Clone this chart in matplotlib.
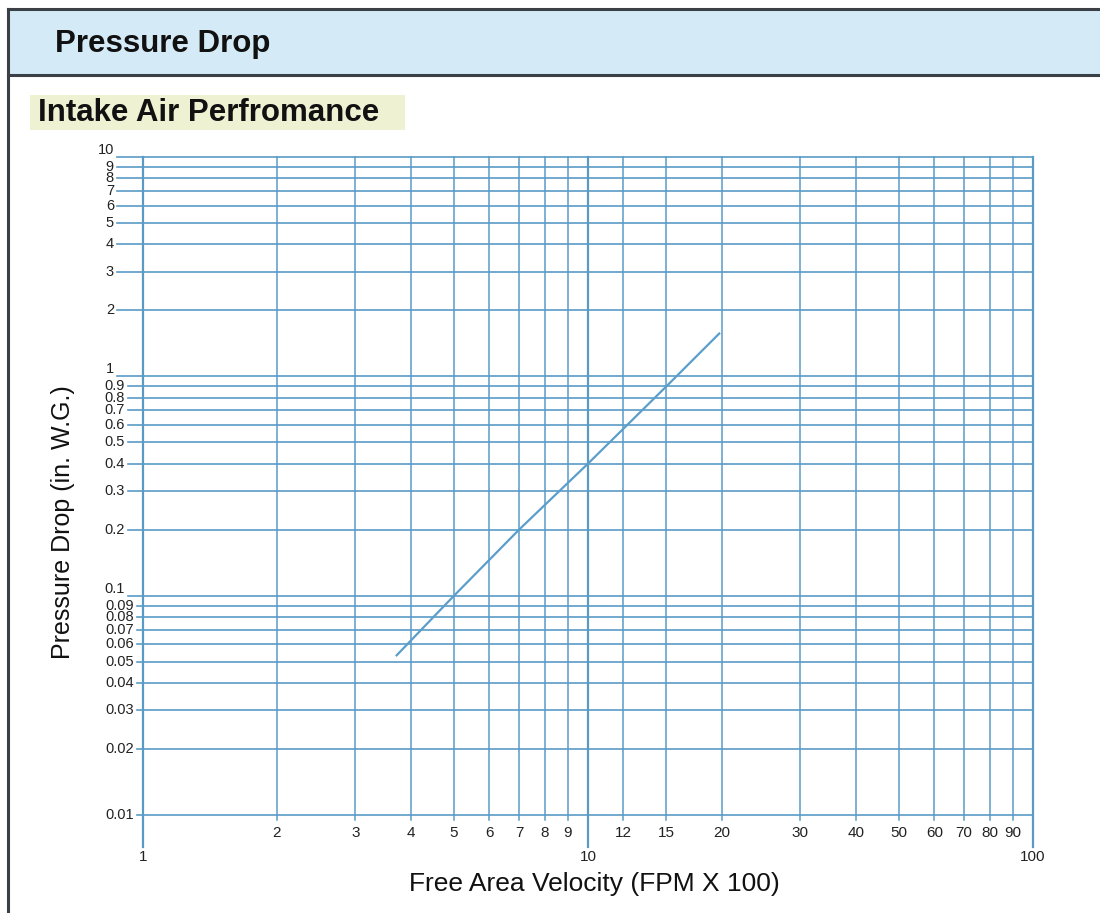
import matplotlib.pyplot as plt
from matplotlib.patches import Rectangle
from matplotlib.lines import Line2D
from matplotlib.transforms import blended_transform_factory

plt.rcParams['font.family'] = ['Liberation Sans', 'DejaVu Sans']

# curve (velocity in FPM x 100, pressure in in. W.G.)
velocity = [3.7, 5, 7, 10, 15, 19.8]
pressure = [0.053, 0.1, 0.2, 0.4, 0.9, 1.58]

x_major = [1, 10, 100]
x_minor = [2, 3, 4, 5, 6, 7, 8, 9, 12, 15, 20, 30, 40, 50, 60, 70, 80, 90]
x_labels_major = ["1", "10", "100"]
x_labels_minor = ["2", "3", "4", "5", "6", "7", "8", "9", "12", "15",
                  "20", "30", "40", "50", "60", "70", "80", "90"]

y_ones = [1, 2, 3, 4, 5, 6, 7, 8, 9, 10]
y_tenths = [0.1, 0.2, 0.3, 0.4, 0.5, 0.6, 0.7, 0.8, 0.9]
y_hundredths = [0.01, 0.02, 0.03, 0.04, 0.05, 0.06, 0.07, 0.08, 0.09]
y_labels_ones = ["1", "2", "3", "4", "5", "6", "7", "8", "9", "10"]
y_labels_tenths = ["0.1", "0.2", "0.3", "0.4", "0.5", "0.6", "0.7", "0.8", "0.9"]
y_labels_hundredths = ["0.01", "0.02", "0.03", "0.04", "0.05",
                       "0.06", "0.07", "0.08", "0.09"]

W, H = 1100, 913
GRID = '#5a9bc6'
DARK = '#3b4046'
TXT = '#222222'
TICK_FS = 10.5


def fx(px):
    return px / W


def fy(py):
    return 1 - py / H


fig = plt.figure(figsize=(11, 9.13), dpi=100)

# header band and frame
fig.add_artist(Rectangle((fx(8), fy(75)), fx(1100 - 8), (75 - 9) / H,
                         transform=fig.transFigure, facecolor='#d4ebf7',
                         edgecolor='none'))
fig.add_artist(Line2D([fx(8), 1], [fy(9), fy(9)], color=DARK, lw=2.2))
fig.add_artist(Line2D([fx(8), 1], [fy(75), fy(75)], color=DARK, lw=2.2))
fig.add_artist(Line2D([fx(8), fx(8)], [fy(9), 0], color=DARK, lw=2.2))
fig.text(fx(55), fy(44), "Pressure Drop", fontsize=22.5, fontweight='bold',
         va='center', ha='left', color='#111111')

# subtitle box
fig.add_artist(Rectangle((fx(30), fy(130)), fx(405 - 30), 35 / H,
                         transform=fig.transFigure, facecolor='#eef2d2',
                         edgecolor='none'))
fig.text(fx(38), fy(113), "Intake Air Perfromance", fontsize=22.5,
         fontweight='bold', va='center', ha='left', color='#111111')

# plot area
left, right, top, bottom = 143, 1033, 157, 815
ax = fig.add_axes([fx(left), fy(bottom), (right - left) / W, (bottom - top) / H])
ax.set_xscale('log')
ax.set_yscale('log')
ax.set_xlim(1, 100)
ax.set_ylim(0.01, 10)
ax.set_xticks([])
ax.set_yticks([])
ax.minorticks_off()
for s in ax.spines.values():
    s.set_visible(False)

aw = right - left
ah = bottom - top

# vertical grid, extended below the plot
for v in x_major:
    ax.axvline(v, ymin=-32 / ah, ymax=1, color=GRID, lw=1.6, clip_on=False)
for v in x_minor:
    ax.axvline(v, ymin=-5 / ah, ymax=1, color=GRID, lw=1.1, clip_on=False)

# horizontal grid, extended left of the plot
for v in y_ones:
    ax.axhline(v, xmin=-26 / aw, xmax=1, color=GRID, lw=1.2, clip_on=False)
for v in y_tenths:
    ax.axhline(v, xmin=-15 / aw, xmax=1, color=GRID, lw=1.2, clip_on=False)
for v in y_hundredths:
    ax.axhline(v, xmin=-6 / aw, xmax=1, color=GRID, lw=1.2, clip_on=False)

# tick labels
tx = blended_transform_factory(ax.transData, fig.transFigure)
for v, lab in zip(x_minor, x_labels_minor):
    ax.text(v, fy(833), lab, transform=tx, ha='center', va='center',
            fontsize=TICK_FS + 0.5, color=TXT)
for v, lab in zip(x_major, x_labels_major):
    ax.text(v, fy(857), lab, transform=tx, ha='center', va='center',
            fontsize=TICK_FS + 0.5, color=TXT)

ty = blended_transform_factory(fig.transFigure, ax.transData)
for v, lab in zip(y_ones, y_labels_ones):
    dy = 'bottom' if v in (1, 10) else 'center'
    ax.text(fx(114), v, lab, transform=ty, ha='right', va=dy,
            fontsize=TICK_FS, color=TXT)
for v, lab in zip(y_tenths, y_labels_tenths):
    dy = 'bottom' if v == 0.1 else 'center'
    ax.text(fx(125), v, lab, transform=ty, ha='right', va=dy,
            fontsize=TICK_FS, color=TXT)
for v, lab in zip(y_hundredths, y_labels_hundredths):
    ax.text(fx(134), v, lab, transform=ty, ha='right', va='center',
            fontsize=TICK_FS, color=TXT)

# the curve
ax.plot(velocity, pressure, color='#5c9ecb', lw=1.6, solid_capstyle='butt')

fig.text(fx(594), fy(884), "Free Area Velocity (FPM X 100)", fontsize=19,
         ha='center', va='center', color='#111111')
fig.text(fx(63), fy(522), "Pressure Drop (in. W.G.)", fontsize=18,
         rotation=90, ha='center', va='center', color='#111111')

fig.savefig('out.png', dpi=100)
